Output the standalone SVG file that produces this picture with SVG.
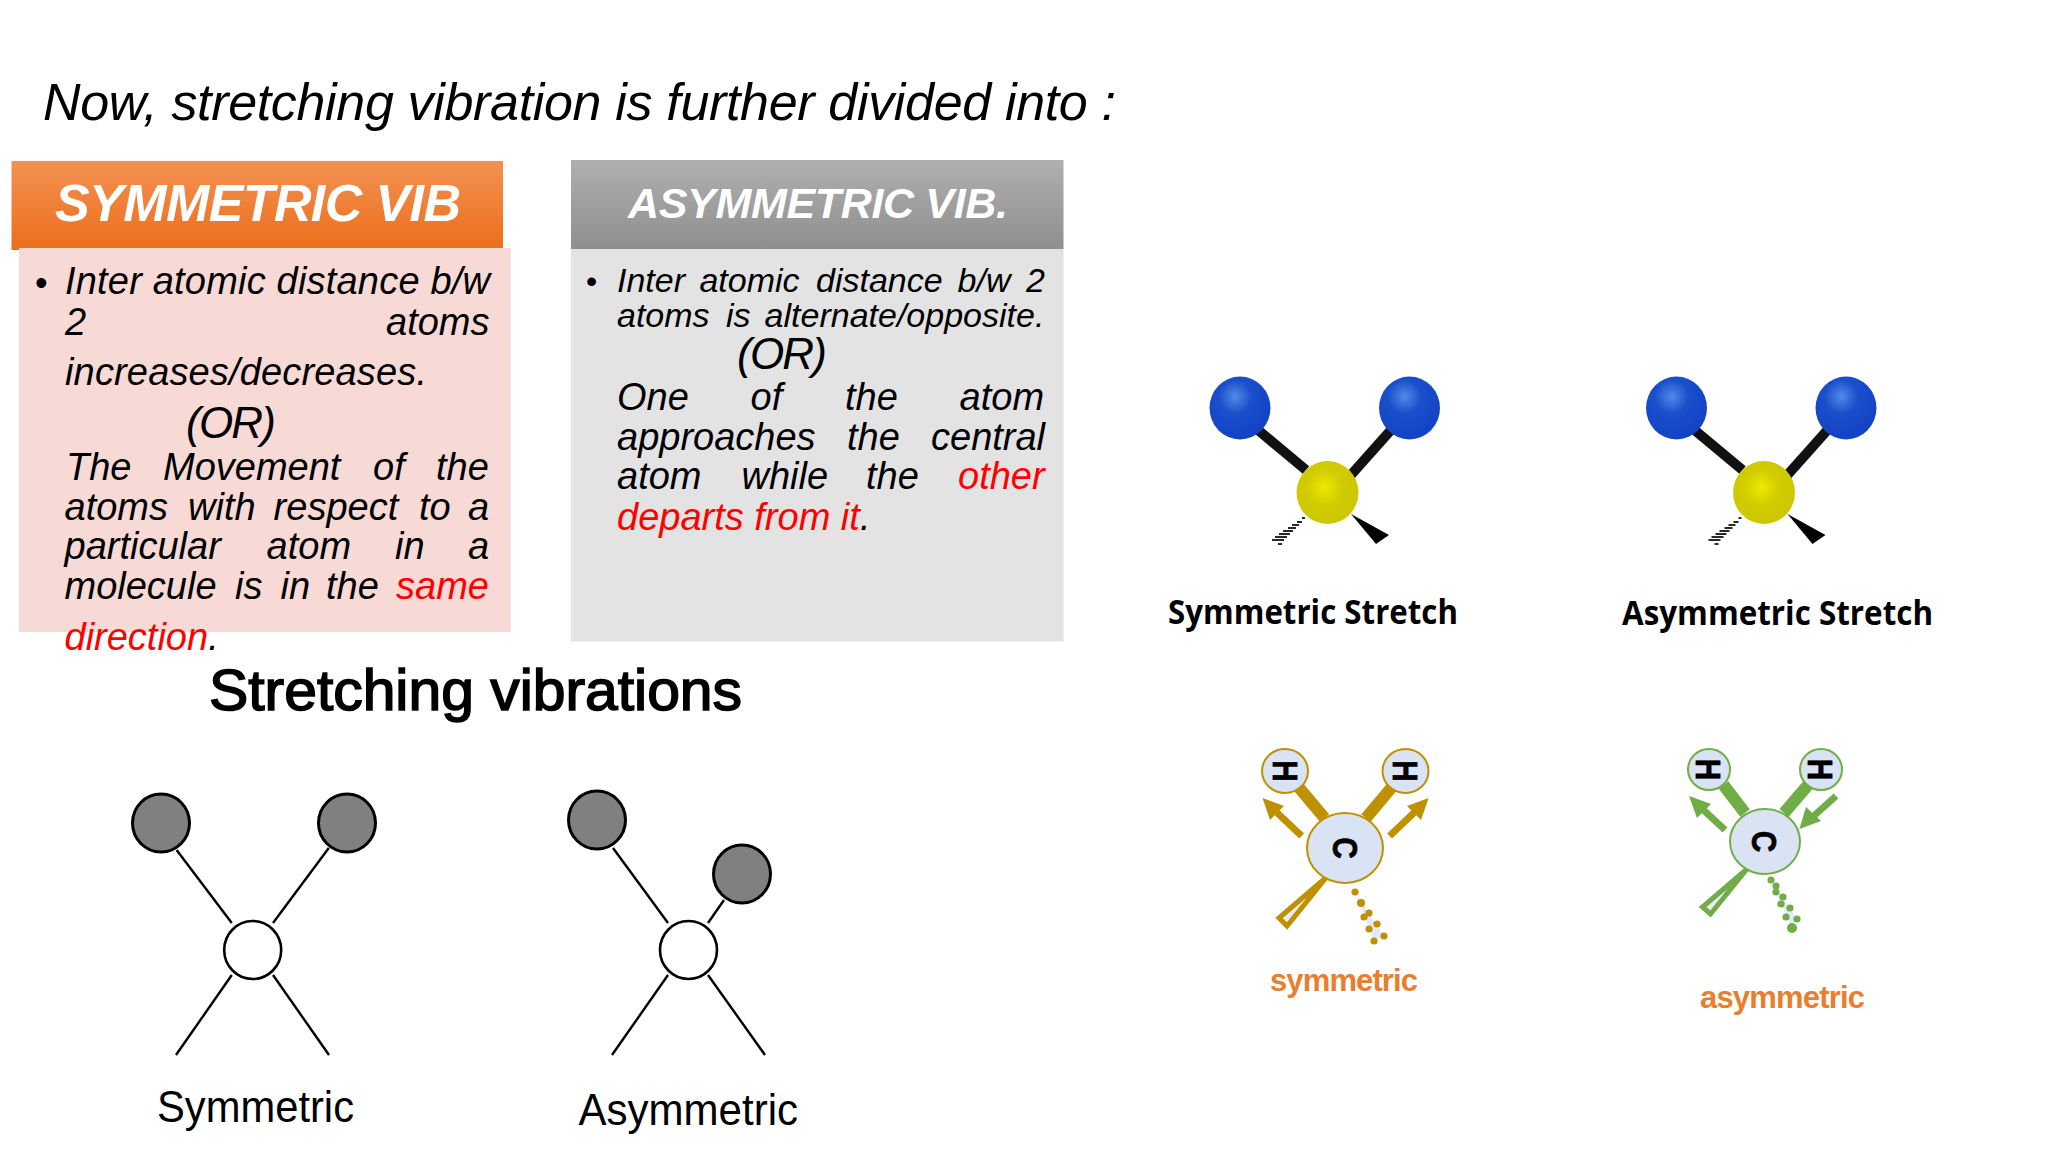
<svg xmlns="http://www.w3.org/2000/svg" width="2048" height="1152" viewBox="0 0 2048 1152">
<style>
.i{font-family:"Liberation Sans",Arial,sans-serif;font-style:italic;fill:#000}
.s38{font-size:38px}.s34{font-size:34px}
.r{fill:#f00}
.hd{font-family:"Liberation Sans",Arial,sans-serif;font-style:italic;font-weight:bold;fill:#fff}
.lbl{font-family:"Open Sans","Liberation Sans",sans-serif;font-weight:700;font-size:34px;fill:#000}
.or{font-family:"Liberation Sans",Arial,sans-serif;font-weight:bold;font-size:31px;fill:#E97E2E}
.at{font-family:"Liberation Sans",Arial,sans-serif;font-weight:bold;fill:#000;stroke:#000;stroke-width:.8;text-anchor:middle}
.bond{stroke:#111;stroke-width:10}
.thin{stroke:#000;stroke-width:2.4;fill:none}
.g1{fill:#808080;stroke:#000;stroke-width:3}
.g0{fill:#fff;stroke:#000;stroke-width:2.6}
.hs{stroke:#111;stroke-width:1.8}
.sans{font-family:"Liberation Sans",Arial,sans-serif;fill:#000}
.gold{stroke:#BF9000;fill:#BF9000}
.green{stroke:#70AD47;fill:#70AD47}
.ball{fill:#DAE3F3;stroke-width:2}
</style>
<defs>
<linearGradient id="go" x1="0" y1="0" x2="0" y2="1"><stop offset="0" stop-color="#F39152"/><stop offset="1" stop-color="#EC6E1A"/></linearGradient>
<linearGradient id="gg" x1="0" y1="0" x2="0" y2="1"><stop offset="0" stop-color="#AFAFAF"/><stop offset="1" stop-color="#8F8F8F"/></linearGradient>
<radialGradient id="bl" cx="0.42" cy="0.32" r="0.6"><stop offset="0" stop-color="#4F8BE8"/><stop offset="0.45" stop-color="#1A4FCB"/><stop offset="1" stop-color="#1444C6"/></radialGradient>
<radialGradient id="ye" cx="0.45" cy="0.42" r="0.55"><stop offset="0" stop-color="#EFE900"/><stop offset="0.5" stop-color="#D2CD00"/><stop offset="1" stop-color="#CCC700"/></radialGradient>
<g id="mol">
<line class="bond" x1="1258" y1="430" x2="1306" y2="470"/>
<line class="bond" x1="1391" y1="430" x2="1350" y2="476"/>
<ellipse cx="1240" cy="408" rx="30.5" ry="31.5" fill="url(#bl)"/>
<ellipse cx="1409.5" cy="408" rx="30.5" ry="31.5" fill="url(#bl)"/>
<ellipse cx="1327.5" cy="492.500" rx="31" ry="31.5" fill="url(#ye)"/>
<polygon points="1351,514 1389,535 1376,544" fill="#000"/>
<g class="hs">
<line x1="1302" y1="518" x2="1305" y2="518"/><line x1="1297" y1="522" x2="1302" y2="522"/><line x1="1292" y1="525" x2="1299" y2="525"/><line x1="1288" y1="528" x2="1296" y2="528"/><line x1="1283" y1="531" x2="1293" y2="531"/><line x1="1279" y1="534" x2="1290" y2="534"/><line x1="1275" y1="537" x2="1287" y2="537"/><line x1="1272" y1="540" x2="1284" y2="540"/><line x1="1278" y1="544" x2="1282" y2="544"/>
</g>
</g>
</defs>
<rect width="2048" height="1152" fill="#fff"/>
<text id="title" class="i" x="43" y="120" font-size="52" textLength="1073">Now, stretching vibration is further divided into :</text>

<g id="symmetric-box">
<rect x="11.500" y="161" width="491.500" height="89" fill="url(#go)"/>
<rect x="19" y="248" width="491.500" height="384" fill="#F7DAD5"/>
<text class="hd" x="55" y="221" font-size="52" textLength="406">SYMMETRIC VIB</text>
<text class="sans" x="35" y="295" font-size="36">•</text>
<text class="i s38" x="65" y="294" textLength="425">Inter atomic distance b/w</text>
<text class="i s38" y="335"><tspan x="65">2</tspan><tspan x="386">atoms</tspan></text>
<text class="i s38" x="65" y="385" textLength="362">increases/decreases.</text>
<text class="i" x="186" y="438" font-size="44" textLength="90">(OR)</text>
<text class="i s38" y="480"><tspan x="66">The</tspan><tspan x="163">Movement</tspan><tspan x="373">of</tspan><tspan x="436">the</tspan></text>
<text class="i s38" y="520"><tspan x="64.500">atoms</tspan><tspan x="188">with</tspan><tspan x="273.600">respect</tspan><tspan x="419">to</tspan><tspan x="468">a</tspan></text>
<text class="i s38" y="559"><tspan x="64.500">particular</tspan><tspan x="266.600">atom</tspan><tspan x="395">in</tspan><tspan x="468">a</tspan></text>
<text class="i s38" y="599"><tspan x="64.500">molecule</tspan><tspan x="235">is</tspan><tspan x="280.600">in</tspan><tspan x="326">the</tspan><tspan class="r" x="396">same</tspan></text>
<text class="i s38" x="64.500" y="650"><tspan class="r">direction</tspan>.</text>
</g>

<g id="asymmetric-box">
<rect x="571" y="160" width="492.500" height="89" fill="url(#gg)"/>
<rect x="571" y="249" width="492.500" height="392.500" fill="#E3E3E3"/>
<text class="hd" x="628" y="218" font-size="43" textLength="380">ASYMMETRIC VIB.</text>
<text class="sans" x="586" y="292" font-size="32">•</text>
<text class="i s34" y="292"><tspan x="617">Inter</tspan><tspan x="699.400">atomic</tspan><tspan x="816">distance</tspan><tspan x="957.600">b/w</tspan><tspan x="1026">2</tspan></text>
<text class="i s34" y="327"><tspan x="617">atoms</tspan><tspan x="726">is</tspan><tspan x="764.600">alternate/opposite.</tspan></text>
<text class="i" x="737" y="369" font-size="44" textLength="90">(OR)</text>
<text class="i s38" y="410"><tspan x="617">One</tspan><tspan x="750.600">of</tspan><tspan x="845">the</tspan><tspan x="959.600">atom</tspan></text>
<text class="i s38" y="450"><tspan x="617">approaches</tspan><tspan x="847">the</tspan><tspan x="931">central</tspan></text>
<text class="i s38" y="489"><tspan x="617">atom</tspan><tspan x="741.500">while</tspan><tspan x="866">the</tspan><tspan class="r" x="958">other</tspan></text>
<text class="i s38" x="617" y="530"><tspan class="r">departs from it</tspan>.</text>
</g>

<g id="molecule-blue-symmetric"><use href="#mol"/><text class="lbl" x="1168" y="624" textLength="290" lengthAdjust="spacingAndGlyphs">Symmetric Stretch</text></g>
<g id="molecule-blue-asymmetric"><use href="#mol" x="436.500"/><text class="lbl" x="1622" y="625" textLength="311" lengthAdjust="spacingAndGlyphs">Asymmetric Stretch</text></g>

<g id="ch2-symmetric">
<g class="gold">
<line x1="1298.500" y1="787" x2="1324.500" y2="818" stroke-width="12"/>
<line x1="1392" y1="787" x2="1366" y2="818" stroke-width="12"/>
<line x1="1301.600" y1="836" x2="1270" y2="806" stroke-width="7"/>
<polygon points="1262.500,798 1284,806 1270,820" stroke="none"/>
<line x1="1389.600" y1="836" x2="1421" y2="806" stroke-width="7"/>
<polygon points="1428.600,798 1407,806 1421,820" stroke="none"/>
<polygon points="1326.700,877 1279,918 1287,926" fill="#E8EDF5" stroke-width="5"/>
</g>
<polygon points="1355,892 1384,936 1374,941" fill="#E4EAF5"/>
<g fill="#BF9000">
<circle cx="1355" cy="892" r="3.600"/><circle cx="1361" cy="903" r="4"/><circle cx="1369" cy="913" r="3.600"/><circle cx="1364" cy="917" r="3.600"/><circle cx="1377" cy="924" r="3.600"/><circle cx="1369" cy="929" r="3.600"/><circle cx="1384" cy="936" r="3.600"/><circle cx="1374" cy="941" r="3.600"/>
</g>
<ellipse class="ball" cx="1285" cy="771" rx="23" ry="22" stroke="#BF9000"/>
<ellipse class="ball" cx="1405.500" cy="771" rx="23" ry="22" stroke="#BF9000"/>
<ellipse class="ball" cx="1345" cy="848" rx="38" ry="35" stroke="#BF9000"/>
<text class="at" font-size="35" transform="translate(1272.500,771) rotate(90) scale(.85,1)">H</text>
<text class="at" font-size="35" transform="translate(1393,771) rotate(90) scale(.85,1)">H</text>
<text class="at" font-size="35" transform="translate(1332.500,848) rotate(90) scale(.85,1)">C</text>
<text class="or" x="1270" y="991" textLength="148">symmetric</text>
</g>

<g id="ch2-asymmetric">
<g class="green">
<line x1="1723.500" y1="785" x2="1745" y2="813" stroke-width="12"/>
<line x1="1808" y1="785" x2="1784" y2="813" stroke-width="12"/>
<line x1="1725" y1="830" x2="1696" y2="803" stroke-width="7"/>
<polygon points="1689,796 1711,804 1697,818" stroke="none"/>
<line x1="1836" y1="796" x2="1807" y2="822" stroke-width="7"/>
<polygon points="1799.400,829 1806,807 1821,821" stroke="none"/>
<polygon points="1747,869 1702.500,907 1710.500,914" fill="#E8EDF5" stroke-width="5"/>
</g>
<polygon points="1771,880 1797,919 1792,929" fill="#E4EAF5"/>
<g fill="#70AD47">
<circle cx="1771" cy="880" r="3.600"/><circle cx="1776" cy="886" r="3.600"/><circle cx="1776" cy="892" r="3.600"/><circle cx="1783" cy="897" r="3.600"/><circle cx="1781" cy="904" r="3.600"/><circle cx="1790" cy="908" r="3.600"/><circle cx="1786" cy="917" r="3.600"/><circle cx="1797" cy="919" r="3.600"/><circle cx="1792" cy="928" r="5"/>
</g>
<ellipse class="ball" cx="1709" cy="769.500" rx="21" ry="20.500" stroke="#70AD47"/>
<ellipse class="ball" cx="1821" cy="769.500" rx="21" ry="20.500" stroke="#70AD47"/>
<ellipse class="ball" cx="1765" cy="841.500" rx="35" ry="32.500" stroke="#70AD47"/>
<text class="at" font-size="35" transform="translate(1696,769.500) rotate(90) scale(.85,1)">H</text>
<text class="at" font-size="35" transform="translate(1808,769.500) rotate(90) scale(.85,1)">H</text>
<text class="at" font-size="35" transform="translate(1752,841.500) rotate(90) scale(.85,1)">C</text>
<text class="or" x="1700" y="1008" textLength="165">asymmetric</text>
</g>

<text id="stretching-title" class="sans" x="209" y="710" font-size="58" textLength="533" lengthAdjust="spacingAndGlyphs" stroke="#000" stroke-width="1.600">Stretching vibrations</text>

<g id="connectors">
<g class="thin">
<line x1="176.600" y1="850" x2="231.800" y2="923"/><line x1="328.800" y1="848" x2="273" y2="923"/><line x1="231.800" y1="975" x2="176" y2="1055"/><line x1="273" y1="975" x2="329" y2="1055"/>
<line x1="613" y1="848" x2="668" y2="923"/><line x1="724" y1="900" x2="708" y2="923"/><line x1="668" y1="975" x2="612" y2="1055"/><line x1="708" y1="975" x2="765" y2="1055"/>
</g>
</g>
<g id="stretch-symmetric">
<ellipse class="g1" cx="161" cy="823" rx="28.500" ry="29"/>
<ellipse class="g1" cx="347" cy="823" rx="28.500" ry="29"/>
<ellipse class="g0" cx="252.700" cy="950" rx="28.500" ry="29"/>
<text class="sans" x="157" y="1122" font-size="44" textLength="197" lengthAdjust="spacingAndGlyphs">Symmetric</text>
</g>
<g id="stretch-asymmetric">
<ellipse class="g1" cx="597" cy="820" rx="28.500" ry="29"/>
<ellipse class="g1" cx="742" cy="874" rx="28.500" ry="29"/>
<ellipse class="g0" cx="688.500" cy="950" rx="28.500" ry="29"/>
<text class="sans" x="578.500" y="1125" font-size="44" textLength="219.500" lengthAdjust="spacingAndGlyphs">Asymmetric</text>
</g>
</svg>
